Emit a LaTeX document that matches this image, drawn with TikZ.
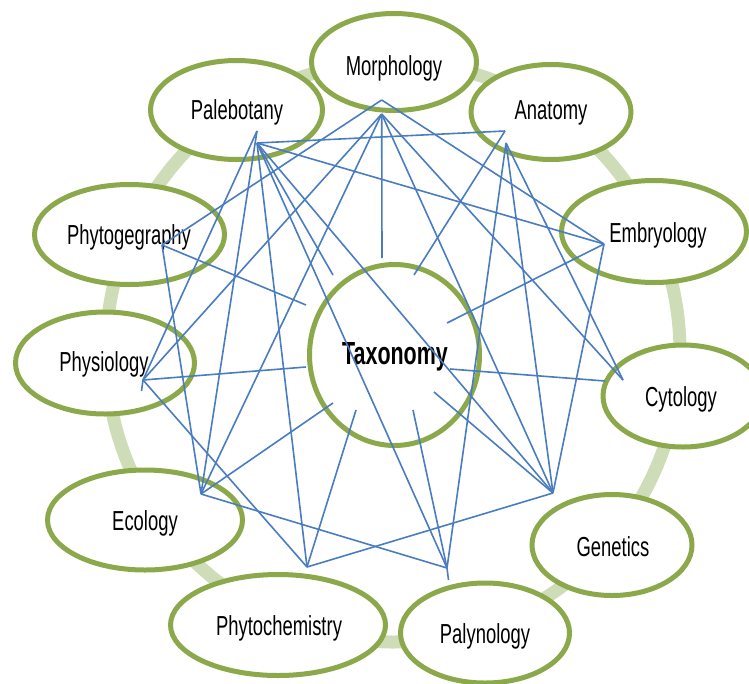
\documentclass[tikz,border=0pt]{standalone}
\usepackage{fontspec}
\setmainfont[FakeStretch=0.67]{Liberation Sans}
\usetikzlibrary{shapes.geometric}
\definecolor{ringgreen}{HTML}{CEDDB8}
\definecolor{rimgreen}{HTML}{8BA84B}
\definecolor{linkblue}{HTML}{4A7CC0}
\tikzset{
  branch/.style={ellipse, draw=rimgreen, line width=5pt, fill=white, inner sep=0pt, outer sep=0pt},
  lbl/.style={font=\fontsize{27.5}{30}\selectfont, inner sep=0pt, text=black},
  centrelbl/.style={font=\fontsize{32}{36}\selectfont\bfseries, inner sep=0pt, text=black},
  link/.style={draw=linkblue, line width=1.6pt},
  ringline/.style={draw=ringgreen, line width=13pt}
}
\begin{document}
\begin{tikzpicture}[x=1pt,y=-1pt]
\useasboundingbox (0,0) rectangle (749,683);
\clip (0,0) rectangle (749,683);
% background ring
\draw[ringline] (393,352) ellipse [x radius=287pt, y radius=290pt];
% ellipses
\node[branch, minimum width=165pt, minimum height=97pt] (morph) at (394,62) {};
\node[branch, minimum width=172pt, minimum height=99pt] (pale) at (236.5,110) {};
\node[branch, minimum width=160pt, minimum height=95pt] (anat) at (551,112) {};
\node[branch, minimum width=190pt, minimum height=100pt] (geog) at (129.5,234.5) {};
\node[branch, minimum width=185pt, minimum height=102pt] (embr) at (654,231.5) {};
\node[branch, minimum width=179pt, minimum height=102pt] (phys) at (105,363) {};
\node[branch, minimum width=160pt, minimum height=102pt] (cyto) at (683,396) {};
\node[branch, minimum width=195pt, minimum height=100pt] (ecol) at (145,520) {};
\node[branch, minimum width=160pt, minimum height=101pt] (gene) at (612,545) {};
\node[branch, minimum width=215pt, minimum height=101pt] (chem) at (278,625) {};
\node[branch, minimum width=169pt, minimum height=100pt] (paly) at (485,633) {};
\node[branch, minimum width=170pt, minimum height=181pt] (taxo) at (394.5,355) {};
% labels
\node[lbl] (morphT) at (394,68) {Morphology};
\node[lbl] (paleT) at (237,112.5) {Palebotany};
\node[lbl] (anatT) at (551,112.5) {Anatomy};
\node[lbl] (geogT) at (129,237.5) {Phytogegraphy};
\node[lbl] (embrT) at (658,235.5) {Embryology};
\node[lbl] (physT) at (104,364.5) {Physiology};
\node[lbl] (cytoT) at (681,399) {Cytology};
\node[lbl] (ecolT) at (145,523.5) {Ecology};
\node[lbl] (geneT) at (613,546.5) {Genetics};
\node[lbl] (chemT) at (279,628.5) {Phytochemistry};
\node[lbl] (palyT) at (485,636.5) {Palynology};
\node[centrelbl] (taxoT) at (395,357) {Taxonomy};
% hubs
\coordinate (Mt) at (381.7,100);
\coordinate (M) at (381.7,114);
\coordinate (Pt) at (257,131);
\coordinate (P) at (257,143);
\coordinate (At) at (505,131);
\coordinate (A) at (506,143);
\coordinate (E) at (604,244);
\coordinate (G) at (162,245);
\coordinate (H) at (143,380);
\coordinate (Hs) at (141.5,391);
\coordinate (C) at (623,380);
\coordinate (Cs) at (605,381);
\coordinate (Ge) at (553,493);
\coordinate (Ec) at (201,494);
\coordinate (Pc) at (307,567);
\coordinate (Pl) at (447,568);
\coordinate (Pls) at (448.5,580);
% taxonomy stubs
\coordinate (tM) at (382,258);
\coordinate (tP) at (333,275);
\coordinate (tA) at (414,275);
\coordinate (tE) at (447,323);
\coordinate (tG) at (306,305);
\coordinate (tH) at (306,367);
\coordinate (tC) at (450,369);
\coordinate (tGe) at (434,392);
\coordinate (tEc) at (333,403);
\coordinate (tPc) at (356,410);
\coordinate (tPl) at (413,410);
% links
\draw[link] (Mt) -- (G);
\draw[link] (Mt) -- (E);
\draw[link] (M) -- (tM);
\draw[link] (M) -- (H);
\draw[link] (M) -- (Ec);
\draw[link] (M) -- (Ge);
\draw[link] (M) -- (C);
\draw[link] (P) -- (At);
\draw[link] (P) -- (E);
\draw[link] (P) -- (tP);
\draw[link] (P) -- (Ge);
\draw[link] (P) -- (Pl);
\draw[link] (P) -- (Pc);
\draw[link] (Pt) -- (H) -- (Hs);
\draw[link] (Pt) -- (Ec);
\draw[link] (At) -- (tA);
\draw[link] (A) -- (C);
\draw[link] (A) -- (Ge);
\draw[link] (A) -- (Pl);
\draw[link] (E) -- (tE);
\draw[link] (E) -- (Ge);
\draw[link] (G) -- (tG);
\draw[link] (G) -- (Ec);
\draw[link] (H) -- (tH);
\draw[link] (H) -- (Pc);
\draw[link] (Cs) -- (tC);
\draw[link] (Ge) -- (tGe);
\draw[link] (Ge) -- (Pc);
\draw[link] (Ec) -- (tEc);
\draw[link] (Ec) -- (Pl);
\draw[link] (Pc) -- (tPc);
\draw[link] (Pl) -- (tPl);
\draw[link] (Pl) -- (Pls);
\end{tikzpicture}
\end{document}
